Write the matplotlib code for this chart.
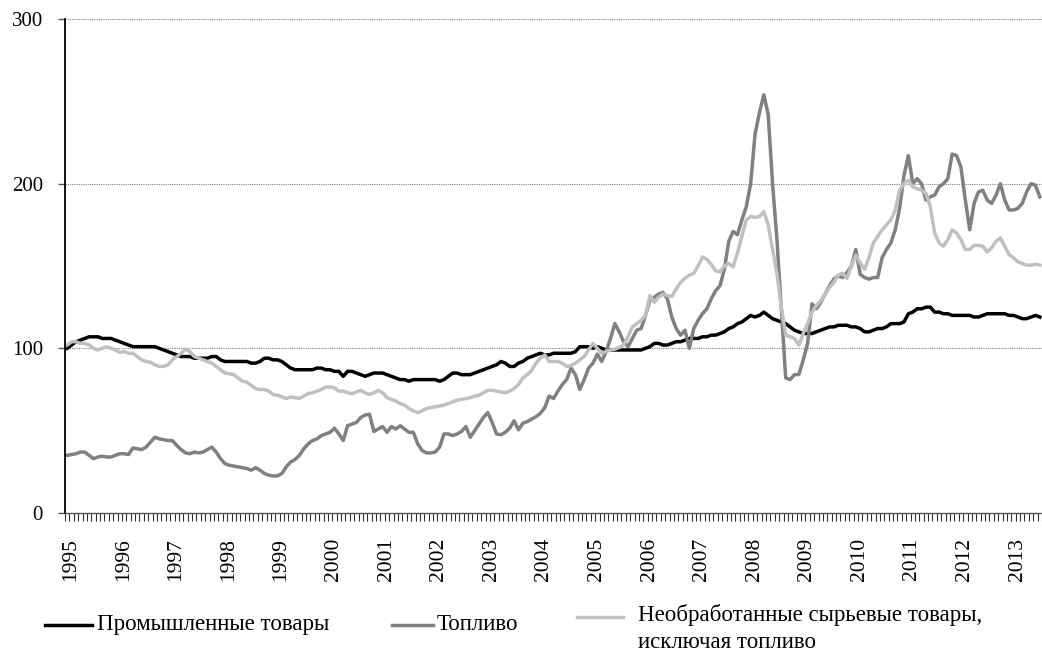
import matplotlib
matplotlib.use('Agg')
from matplotlib import pyplot as plt
from matplotlib.lines import Line2D
import numpy as np

plt.rcParams['font.family'] = ['Liberation Serif', 'DejaVu Serif']

# monthly indices, Jan 1995 .. Jul 2013
years = [str(y) for y in range(1995, 2014)]

industrial = [
    100, 102, 104, 105, 106, 107, 107, 107, 106, 106, 106, 105,   # 1995
    104, 103, 102, 101, 101, 101, 101, 101, 101, 100, 99, 98,     # 1996
    97, 96, 95, 95, 95, 94, 94, 94, 94, 95, 95, 93,               # 1997
    92, 92, 92, 92, 92, 92, 91, 91, 92, 94, 94, 93,               # 1998
    93, 92, 90, 88, 87, 87, 87, 87, 87, 88, 88, 87,               # 1999
    87, 86, 86, 83, 86, 86, 85, 84, 83, 84, 85, 85,               # 2000
    85, 84, 83, 82, 81, 81, 80, 81, 81, 81, 81, 81,               # 2001
    81, 80, 81, 83, 85, 85, 84, 84, 84, 85, 86, 87,               # 2002
    88, 89, 90, 92, 91, 89, 89, 91, 92, 94, 95, 96,               # 2003
    97, 96, 96, 97, 97, 97, 97, 97, 98, 101, 101, 101,            # 2004
    100, 101, 100, 99, 99, 99, 99, 99, 99, 99, 99, 99,            # 2005
    100, 101, 103, 103, 102, 102, 103, 104, 104, 105, 106, 106,   # 2006
    106, 107, 107, 108, 108, 109, 110, 112, 113, 115, 116, 118,   # 2007
    120, 119, 120, 122, 120, 118, 117, 116, 115, 113, 111, 110,   # 2008
    109, 109, 109, 110, 111, 112, 113, 113, 114, 114, 114, 113,   # 2009
    113, 112, 110, 110, 111, 112, 112, 113, 115, 115, 115, 116,   # 2010
    121, 122, 124, 124, 125, 125, 122, 122, 121, 121, 120, 120,   # 2011
    120, 120, 120, 119, 119, 120, 121, 121, 121, 121, 121, 120,   # 2012
    120, 119, 118, 118, 119, 120, 119,                            # 2013
]

fuel = [
    35, 35.5, 36, 37, 37, 35, 33, 34, 34.5, 34, 34, 35,           # 1995
    36, 36, 35.5, 39.5, 39, 38.5, 40, 43, 46, 45, 44.5, 44,       # 1996
    44, 41, 38.5, 36.5, 36, 37, 36.5, 37, 38.5, 40, 37, 33,       # 1997
    30, 29, 28.5, 28, 27.5, 27, 26, 27.5, 26, 24, 23, 22.5,       # 1998
    22.5, 24, 28, 31, 32.5, 35, 39, 42, 44, 45, 47, 48,           # 1999
    49, 51.5, 48, 44, 53, 54, 55, 58, 59.5, 60, 49.5, 51,         # 2000
    52.5, 49, 52.5, 51, 53, 51, 49, 49, 42, 38, 36.5, 36.5,       # 2001
    37, 40, 48, 48, 47, 48, 49.5, 52.5, 46, 50, 54, 58,           # 2002
    61, 55, 48, 47.5, 49, 51.5, 56, 50.5, 54.5, 55.5, 57, 58.5,   # 2003
    60.5, 64, 71, 69.5, 74, 78, 81, 88, 84, 75, 81, 88,           # 2004
    91, 96.5, 92, 98, 106, 115, 110, 104, 101, 106, 111, 112,     # 2005
    120, 129, 131, 133, 134, 130, 119, 112, 108, 111, 100, 112,   # 2006
    117, 121, 124, 130, 135, 138, 148, 165, 171, 169, 178, 186,   # 2007
    200, 230, 243, 254, 242, 200, 166, 124, 82, 81, 84, 84,       # 2008
    93, 103, 127, 124, 128, 133, 138, 142, 144, 143, 146, 150,    # 2009
    160, 145, 143, 142, 143, 143, 155, 160, 164, 172, 185, 205,   # 2010
    217, 200, 203, 200, 190, 192, 193, 198, 200, 203, 218, 217,   # 2011
    210, 190, 172, 188, 195, 196, 190, 188, 193, 200, 190, 184,   # 2012
    184, 185, 188, 195, 200, 199, 192,                            # 2013
]

nonfuel = [
    102, 104, 104, 103, 103, 102, 100, 99, 100, 101, 100, 99,     # 1995
    97.5, 98, 97, 97, 95, 93, 92, 91.5, 90, 89, 89, 90,           # 1996
    93, 95, 97, 99.5, 98, 95, 94, 93, 92, 91, 89, 87,             # 1997
    85, 84.5, 84, 82, 80, 79.5, 77.5, 75.5, 75, 75, 74, 72,       # 1998
    71.5, 70.5, 69.5, 70.5, 70, 69.5, 71, 72.5, 73, 74, 75, 76.5, # 1999
    76.5, 76, 74, 74, 73, 72.5, 73.5, 74.5, 73, 72, 73, 74.5,     # 2000
    73, 70, 69, 68, 66.5, 65.5, 63.5, 62, 61, 62, 63.5, 64,       # 2001
    64.5, 65, 65.5, 66.5, 67.5, 68.5, 69, 69.5, 70, 71, 71.5, 73, # 2002
    74.5, 74.5, 74, 73.5, 73, 74, 75.5, 78, 82, 84, 86.5, 91,     # 2003
    94, 96, 92, 92, 92, 91, 89, 89.5, 91, 93, 95, 99,             # 2004
    103, 100, 97, 98, 99, 99.5, 100.5, 102, 107, 113, 115, 117,   # 2005
    120, 132, 128, 131, 133, 132, 131.5, 136, 140, 142.5, 144.5, 145.5,  # 2006
    150, 155.5, 154, 151, 147, 146.5, 150, 151.5, 149.5, 158, 168, 178,  # 2007
    180, 179.5, 180, 183, 175, 160, 145.5, 125, 108, 107, 106, 102,      # 2008
    109, 115, 122, 126, 129, 133, 137, 140, 144.5, 145.5, 142.5, 150,    # 2009
    156.5, 152, 148, 155, 164, 168, 172, 175, 178, 184, 196, 200,        # 2010
    202, 198, 197, 196, 194, 186, 170, 164, 162, 166, 172, 170,          # 2011
    166, 160, 160, 162.5, 162.5, 162, 158.5, 161, 165, 167, 162, 157,    # 2012
    155, 152.5, 151.5, 150.5, 150.5, 151, 150.5,                         # 2013
]

labels = ['Промышленные товары', 'Топливо',
          'Необработанные сырьевые товары,\nисключая топливо']
colors = ['#000000', '#808080', '#c0c0c0']

n = len(industrial)
x = np.arange(n) + 0.5

fig = plt.figure(figsize=(10.42, 6.52), dpi=100)
ax = fig.add_axes([0.0624, 0.2132, 0.9376, 0.7577])

for series, c in zip([industrial, fuel, nonfuel], colors):
    ax.plot(x, series, color=c, lw=2.5, solid_joinstyle='round')

ax.set_xlim(0, n)
ax.set_ylim(0, 300)

# y axis
ax.set_yticks([0, 100, 200, 300])
ax.tick_params(axis='y', direction='out', length=5, width=1, colors='#555555',
               labelcolor='black', labelsize=15, pad=11)
for v in [100, 200, 300]:
    ax.axhline(v, color='#808080', lw=0.8, ls=(0, (1, 1)), zorder=0)

# x axis: month ticks, year labels
ax.set_xticks(np.arange(0, n + 1), minor=True)
ax.set_xticks(np.arange(0, n, 12) + 1.3)
ax.set_xticklabels(years, rotation=90)
ax.tick_params(axis='x', which='minor', direction='out', length=6, width=0.8,
               color='#333333')
ax.tick_params(axis='x', which='major', length=0, labelsize=15.5, pad=18)

for s in ['top', 'right']:
    ax.spines[s].set_visible(False)
ax.spines['left'].set_linewidth(1.3)
ax.spines['bottom'].set_color('#555555')
ax.spines['bottom'].set_linewidth(1.0)

# legend under the chart: (line start, line end, text x, line y, text top)
leg_items = [(45, 92, 97, 625, 614), (392, 433, 437, 625, 614),
             (577, 623, 638, 617, 604)]
W, H = 1042.0, 652.0
for (x0, x1, tx, ly, ty), lab, c in zip(leg_items, labels, colors):
    fig.add_artist(Line2D([x0 / W, x1 / W], [1 - ly / H, 1 - ly / H],
                          color=c, lw=2.5))
    fig.text(tx / W, 1 - ty / H, lab, fontsize=16.5, va='top',
             ha='left', linespacing=1.4)

fig.savefig('out.png', dpi=100)
